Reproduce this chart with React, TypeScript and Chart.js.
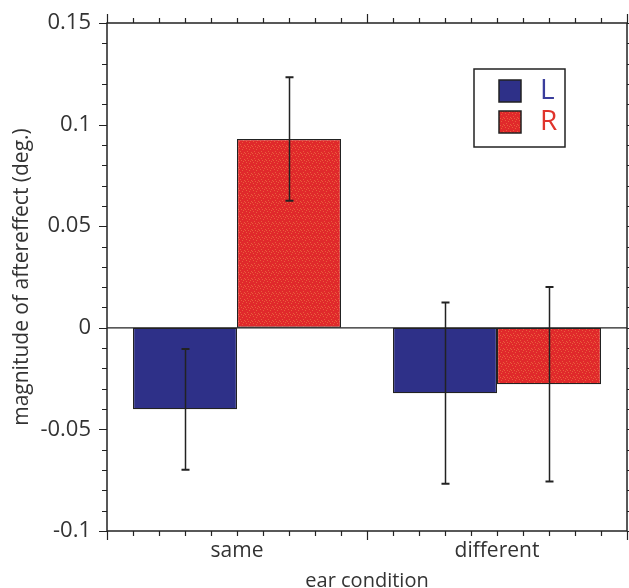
import React, { useEffect, useRef } from 'react';
import { Chart, registerables } from 'chart.js';

Chart.register(...registerables);

const categories = ['same', 'different'];
const seriesNames = ['L', 'R'];
const valuesL = [-0.0401, -0.0322];
const valuesR = [0.0929, -0.0278];
const errorsL = [0.0297, 0.0446];
const errorsR = [0.0304, 0.0479];
const yMin = -0.1;
const yMax = 0.15;
const majorStep = 0.05;
const minorStepsPerMajor = 5;
const xMinorPerCategory = 10;

const BLUE = '#2e3088';
const RED = '#e0292b';
const INK = '#222222';
const TEXT = '#333333';
const FONT = '"Open Sans", "Noto Sans", sans-serif';

function makeRedPattern(ctx: CanvasRenderingContext2D): CanvasPattern | string {
  const c = document.createElement('canvas');
  c.width = 7;
  c.height = 7;
  const g = c.getContext('2d');
  if (!g) return RED;
  g.fillStyle = RED;
  g.fillRect(0, 0, 7, 7);
  g.fillStyle = '#e95d3c';
  const dots = [[1, 1], [4, 2], [2, 4], [6, 5], [5, 0], [0, 6], [3, 6]];
  dots.forEach(([a, b]) => g.fillRect(a, b, 1, 1));
  const p = ctx.createPattern(c, 'repeat');
  return p || RED;
}

const overlayPlugin = {
  id: 'overlay',
  afterDatasetsDraw(chart: any) {
    const ctx: CanvasRenderingContext2D = chart.ctx;
    const { left, right, top, bottom } = chart.chartArea;
    const ys = chart.scales.y;
    const xs = chart.scales.x;
    ctx.save();

    // zero line
    const y0 = ys.getPixelForValue(0);
    ctx.strokeStyle = INK;
    ctx.lineWidth = 1.3;
    ctx.beginPath();
    ctx.moveTo(left, y0);
    ctx.lineTo(right, y0);
    ctx.stroke();

    // error bars
    chart.data.datasets.forEach((ds: any, di: number) => {
      const meta = chart.getDatasetMeta(di);
      meta.data.forEach((bar: any, i: number) => {
        const v = ds.data[i];
        const e = ds.errors[i];
        const px = Math.round(bar.x) + 0.5;
        const yHi = ys.getPixelForValue(v + e);
        const yLo = ys.getPixelForValue(v - e);
        ctx.strokeStyle = INK;
        ctx.lineWidth = 1.5;
        ctx.beginPath();
        ctx.moveTo(px, yHi);
        ctx.lineTo(px, yLo);
        ctx.stroke();
        ctx.lineWidth = 2;
        ctx.beginPath();
        ctx.moveTo(px - 4, yHi);
        ctx.lineTo(px + 4, yHi);
        ctx.moveTo(px - 4, yLo);
        ctx.lineTo(px + 4, yLo);
        ctx.stroke();
      });
    });

    // frame
    ctx.strokeStyle = INK;
    ctx.lineWidth = 1.5;
    ctx.strokeRect(left, top, right - left, bottom - top);

    // y ticks (left and right)
    ctx.lineWidth = 1.2;
    const nMinor = Math.round((yMax - yMin) / majorStep) * minorStepsPerMajor;
    for (let k = 0; k <= nMinor; k++) {
      const v = yMin + (k * majorStep) / minorStepsPerMajor;
      const py = Math.round(ys.getPixelForValue(v)) + 0.5;
      const len = k % minorStepsPerMajor === 0 ? 8 : 5;
      ctx.beginPath();
      ctx.moveTo(left - len, py);
      ctx.lineTo(left, py);
      ctx.moveTo(right, py);
      ctx.lineTo(right + len, py);
      ctx.stroke();
    }

    // x ticks (bottom and top)
    const nX = categories.length * xMinorPerCategory;
    for (let k = 0; k <= nX; k++) {
      const v = -0.5 + k / xMinorPerCategory;
      const px = Math.round(xs.getPixelForValue(v)) + 0.5;
      const len = k % xMinorPerCategory === 0 ? 9 : 5;
      ctx.beginPath();
      ctx.moveTo(px, bottom);
      ctx.lineTo(px, bottom + len);
      ctx.moveTo(px, top);
      ctx.lineTo(px, top - len);
      ctx.stroke();
    }

    // legend
    const bx = right - 153;
    const by = top + 46;
    ctx.fillStyle = '#ffffff';
    ctx.fillRect(bx, by, 91, 78);
    ctx.lineWidth = 1.5;
    ctx.strokeRect(bx, by, 91, 78);
    const textColors = ['#3a3d9c', '#e0342c'];
    chart.data.datasets.forEach((ds: any, di: number) => {
      const sy = by + 11 + di * 31;
      ctx.fillStyle = ds.backgroundColor;
      ctx.fillRect(bx + 25, sy, 22, 22);
      ctx.strokeStyle = INK;
      ctx.lineWidth = 1.5;
      ctx.strokeRect(bx + 25, sy, 22, 22);
      ctx.fillStyle = textColors[di];
      ctx.font = `28px ${FONT}`;
      ctx.textBaseline = 'middle';
      ctx.textAlign = 'left';
      ctx.fillText(ds.label, bx + 66, sy + 11);
    });

    ctx.restore();
  },
};

export default function App() {
  const ref = useRef<HTMLCanvasElement | null>(null);
  useEffect(() => {
    const canvas = ref.current;
    if (!canvas) return;
    const ctx = canvas.getContext('2d');
    if (!ctx) return;
    const redFill = makeRedPattern(ctx);
    const chart = new Chart(canvas, {
      type: 'bar',
      data: {
        labels: categories,
        datasets: [
          {
            label: seriesNames[0],
            data: valuesL,
            errors: errorsL,
            backgroundColor: BLUE,
            borderColor: INK,
            borderWidth: 1.2,
            borderSkipped: false,
            categoryPercentage: 0.8,
            barPercentage: 1.0,
          } as any,
          {
            label: seriesNames[1],
            data: valuesR,
            errors: errorsR,
            backgroundColor: redFill,
            borderColor: INK,
            borderWidth: 1.2,
            borderSkipped: false,
            categoryPercentage: 0.8,
            barPercentage: 1.0,
          } as any,
        ],
      },
      options: {
        responsive: false,
        animation: false,
        layout: { padding: { left: 0, right: 2, top: 23, bottom: 0 } },
        plugins: {
          legend: { display: false },
          tooltip: { enabled: false },
        },
        scales: {
          x: {
            type: 'category',
            offset: true,
            grid: { display: false, drawTicks: false, tickLength: 0 },
            border: { display: false },
            ticks: {
              color: TEXT,
              font: { family: FONT, size: 21 },
              padding: 7,
              maxRotation: 0,
            },
            title: {
              display: true,
              text: 'ear condition',
              color: TEXT,
              font: { family: FONT, size: 20, lineHeight: 0.7 },
              padding: { top: 0, bottom: 0 },
            },
            afterFit: (scale: any) => {
              scale.height = 57;
              scale.paddingLeft = 0;
              scale.paddingRight = 0;
            },
          },
          y: {
            type: 'linear',
            min: yMin,
            max: yMax,
            grid: { display: false, drawTicks: false, tickLength: 0 },
            border: { display: false },
            ticks: {
              stepSize: majorStep,
              color: TEXT,
              font: { family: FONT, size: 22 },
              padding: 16,
              autoSkip: false,
              callback: (v: any) => {
                const n = Number(Number(v).toFixed(2));
                return String(n === 0 ? 0 : n);
              },
            },
            title: {
              display: true,
              text: 'magnitude of aftereffect (deg.)',
              color: TEXT,
              font: { family: FONT, size: 21, lineHeight: 1.0 },
              padding: { top: 12, bottom: 0 },
            },
            afterFit: (scale: any) => {
              scale.width = 107;
              scale.paddingTop = 0;
              scale.paddingBottom = 0;
            },
          },
        },
      },
      plugins: [overlayPlugin],
    } as any);
    return () => chart.destroy();
  }, []);
  return (
    <div style={{ position: 'absolute', left: 0, top: 0, width: 629, height: 588, background: '#fff' }}>
      <canvas ref={ref} width={629} height={588} style={{ display: 'block' }} />
    </div>
  );
}
